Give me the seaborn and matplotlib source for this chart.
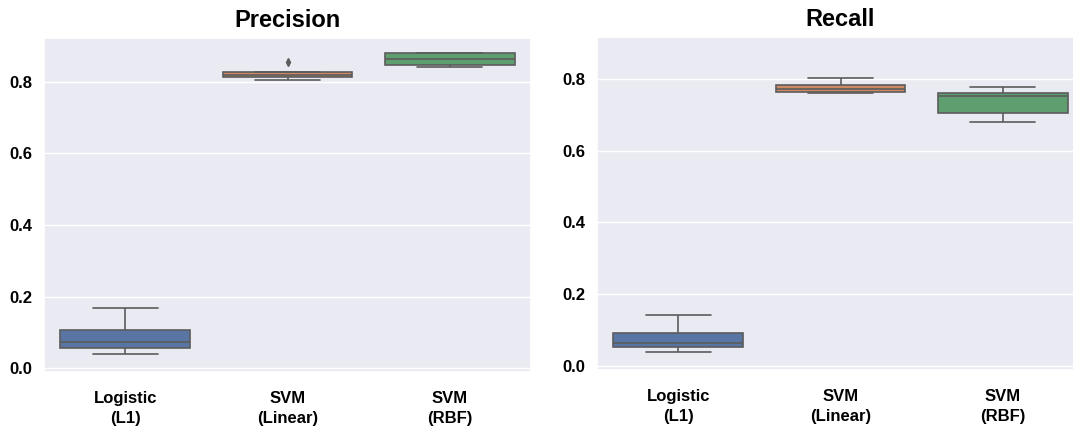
import matplotlib
matplotlib.use("Agg")
import matplotlib.pyplot as plt
import seaborn as sns
import pandas as pd

# Cross-validation scores (5 folds) for each model
models = ["Logistic\n(L1)", "SVM\n(Linear)", "SVM\n(RBF)"]

precision_logistic = [0.040, 0.0575, 0.0726, 0.107, 0.169]
precision_svm_linear = [0.805, 0.814, 0.819, 0.826, 0.855]
precision_svm_rbf = [0.840, 0.846, 0.863, 0.880, 0.880]

recall_logistic = [0.038, 0.052, 0.063, 0.093, 0.143]
recall_svm_linear = [0.761, 0.765, 0.772, 0.783, 0.802]
recall_svm_rbf = [0.680, 0.705, 0.753, 0.762, 0.777]


def long_frame(series):
    rows = []
    for model, values in zip(models, series):
        for v in values:
            rows.append({"model": model, "score": v})
    return pd.DataFrame(rows)


precision_df = long_frame([precision_logistic, precision_svm_linear, precision_svm_rbf])
recall_df = long_frame([recall_logistic, recall_svm_linear, recall_svm_rbf])

sns.set_theme(style="darkgrid")
plt.rcParams["font.family"] = ["Liberation Sans", "DejaVu Sans"]

fig = plt.figure(figsize=(10.73, 4.32), dpi=100)
W, H = 1073, 432
ax1 = fig.add_axes([44 / W, 1 - 372 / H, 487 / W, (372 - 38.3) / H])
ax2 = fig.add_axes([597 / W, 1 - 369.5 / H, 487 / W, (369.5 - 37) / H])

palette = sns.color_palette("deep")[:3]
line_col = "#5c5c5c"
flier = dict(marker="d", markersize=4, markerfacecolor=line_col,
             markeredgecolor=line_col)

panels = [
    (ax1, precision_df, "Precision", (-0.0103, 0.921)),
    (ax2, recall_df, "Recall", (-0.0098, 0.917)),
]

for ax, df, title, ylim in panels:
    sns.boxplot(data=df, x="model", y="score", hue="model", palette=palette,
                legend=False, width=0.8, linecolor=line_col, linewidth=1.2,
                flierprops=flier, ax=ax)
    ax.set_ylim(*ylim)
    ax.set_yticks([0.0, 0.2, 0.4, 0.6, 0.8])
    ax.set_yticklabels(["0.0", "0.2", "0.4", "0.6", "0.8"])
    ax.set_xlabel("")
    ax.set_ylabel("")
    ax.set_title(title, fontsize=17, fontweight="bold", pad=8, color="black")
    ax.tick_params(axis="x", pad=8, labelsize=12, labelcolor="black")
    ax.tick_params(axis="y", pad=2.5, labelsize=12, labelcolor="black")
    for lab in ax.get_xticklabels() + ax.get_yticklabels():
        lab.set_fontweight("bold")
    for lab in ax.get_xticklabels():
        lab.set_linespacing(1.4)

fig.savefig("out.png", dpi=100)
